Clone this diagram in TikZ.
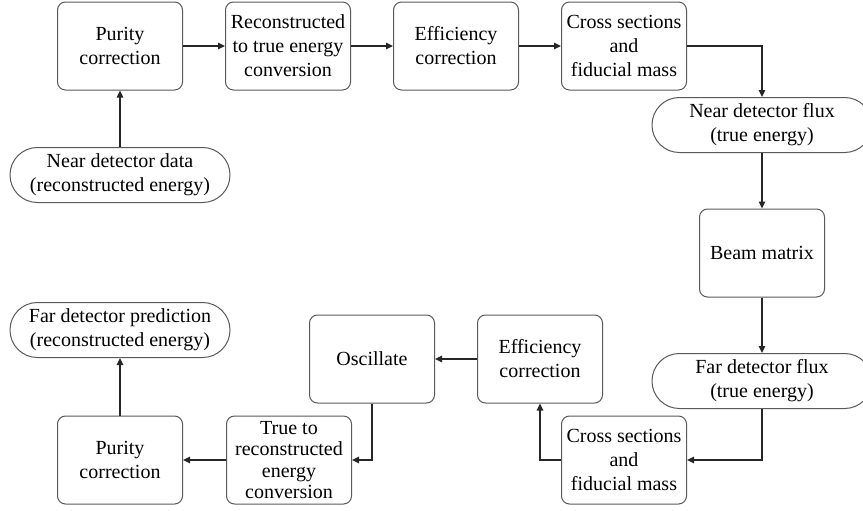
\documentclass[tikz,border=0pt]{standalone}
\usepackage{fontspec}
\setmainfont{Liberation Serif}
\newfontfamily\timesfont{Liberation Serif}
\usepackage{tikz}
\usetikzlibrary{positioning,arrows.meta}

\begin{document}
\begin{tikzpicture}[x=0.5pt,y=-0.5pt,
  stepbox/.style={draw=black!65, line width=0.5pt, rounded corners=4pt,
    minimum width=62.5pt, minimum height=44pt, inner sep=1pt, align=center,
    font=\timesfont\fontsize{10}{12}\selectfont},
  datapill/.style={draw=black!65, line width=0.5pt, rounded corners=13.7pt,
    minimum width=110pt, minimum height=27.5pt, inner sep=1pt, align=center,
    font=\timesfont\fontsize{10}{12}\selectfont},
  flow/.style={-{Triangle[length=3.5pt,width=3.2pt]}, line width=0.9pt, black!85}]
  \useasboundingbox (0,0) rectangle (863,510);
  %% near detector chain
  \node[datapill] (ndata) at (120,175) {Near detector data\\(reconstructed energy)};
  \node[stepbox] (pur1) at (120,46) {Purity\\correction};
  \node[stepbox] (reco1) at (288,46) {Reconstructed\\to true energy\\conversion};
  \node[stepbox] (eff1) at (456,46) {Efficiency\\correction};
  \node[stepbox] (xsec1) at (624,46) {Cross sections\\and\\fiducial mass};
  \node[datapill] (nflux) at (762,125) {Near detector flux\\(true energy)};
  %% extrapolation
  \node[stepbox] (beam) at (762,253) {Beam matrix};
  \node[datapill] (fflux) at (762,381) {Far detector flux\\(true energy)};
  %% far detector chain
  \node[stepbox] (xsec2) at (624,460) {Cross sections\\and\\fiducial mass};
  \node[stepbox] (eff2) at (540,359) {Efficiency\\correction};
  \node[stepbox] (osc) at (372,359) {Oscillate};
  \node[stepbox, font=\timesfont\fontsize{10}{10.8}\selectfont] (reco2) at (289,460)
    {True to\\reconstructed\\energy\\conversion};
  \node[stepbox] (pur2) at (120,460) {Purity\\correction};
  \node[datapill] (fdpred) at (120,330) {Far detector prediction\\(reconstructed energy)};
  %% arrows
  \draw[flow] (ndata) -- (pur1);
  \draw[flow] (pur1) -- (reco1);
  \draw[flow] (reco1) -- (eff1);
  \draw[flow] (eff1) -- (xsec1);
  \draw[flow] (xsec1) -| (nflux);
  \draw[flow] (nflux) -- (beam);
  \draw[flow] (beam) -- (fflux);
  \draw[flow] (fflux) |- (xsec2);
  \draw[flow] (xsec2) -| (eff2);
  \draw[flow] (eff2) -- (osc);
  \draw[flow] (osc) |- (reco2);
  \draw[flow] (reco2) -- (pur2);
  \draw[flow] (pur2) -- (fdpred);
\end{tikzpicture}
\end{document}
